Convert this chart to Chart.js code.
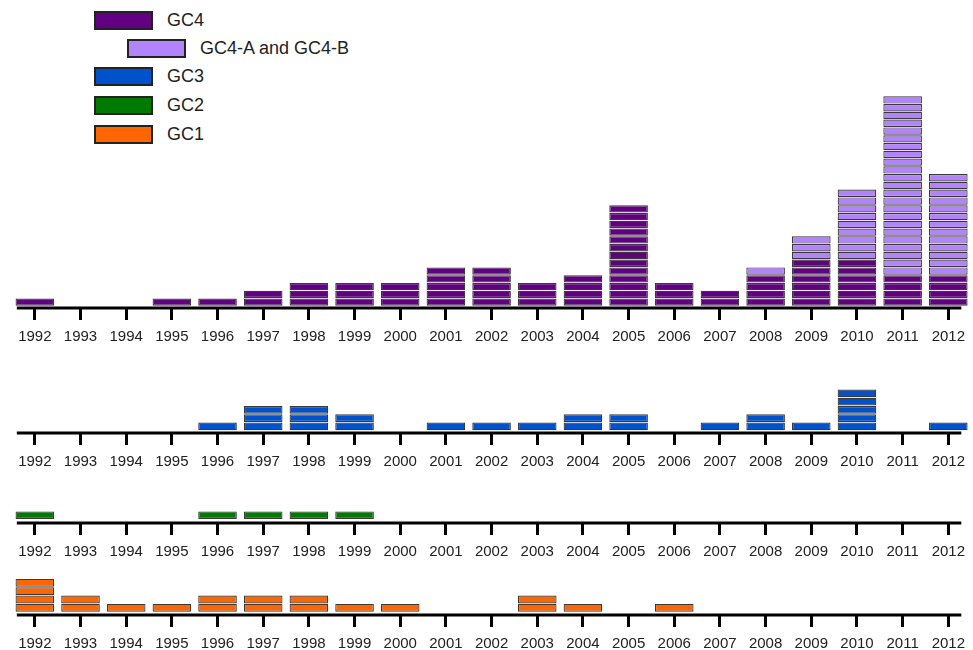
<!DOCTYPE html>
<html>
<head>
<meta charset="utf-8">
<script src="https://cdn.jsdelivr.net/npm/chart.js@4.4.1/dist/chart.umd.min.js"></script>
<style>
    body { margin: 0; width: 973px; height: 650px; overflow: hidden; background: #fff; position: relative;
           font-family: "Liberation Sans", Arial, sans-serif; }
    .panel { position: absolute; left: 0; }
    .legend-item { position: absolute; display: flex; align-items: center; font-size: 18px; color: #222; }
    .legend-item span.swatch { display: inline-block; width: 55px; height: 15px; border: 2px solid #222; margin-right: 14px; }
</style>
</head>
<body>
<div id="legend"></div>
<canvas id="gc4-chart" class="panel"></canvas>
<canvas id="gc3-chart" class="panel"></canvas>
<canvas id="gc2-chart" class="panel"></canvas>
<canvas id="gc1-chart" class="panel"></canvas>
<script>
// Data: number of blocks per year
const years = ['1992', '1993', '1994', '1995', '1996', '1997', '1998', '1999', '2000', '2001', '2002',
               '2003', '2004', '2005', '2006', '2007', '2008', '2009', '2010', '2011', '2012'];
const gc4   = [1, 0, 0, 1, 1, 2, 3, 3, 3, 5, 5, 3, 4, 13, 3, 2, 4, 6, 6, 4, 4];
const gc4ab = [0, 0, 0, 0, 0, 0, 0, 0, 0, 0, 0, 0, 0, 0, 0, 0, 1, 3, 9, 23, 13];
const gc3   = [0, 0, 0, 0, 1, 3, 3, 2, 0, 1, 1, 1, 2, 2, 0, 1, 2, 1, 5, 0, 1];
const gc2   = [1, 0, 0, 0, 1, 1, 1, 1, 0, 0, 0, 0, 0, 0, 0, 0, 0, 0, 0, 0, 0];
const gc1   = [4, 2, 1, 1, 2, 2, 2, 1, 1, 0, 0, 2, 1, 0, 1, 0, 0, 0, 0, 0, 0];

const COLORS = {
    gc4: '#620082',
    gc4ab: '#b383fb',
    gc3: '#0052cc',
    gc2: '#007a00',
    gc1: '#ff6600'
};

const FONT = '"Liberation Sans", Arial, sans-serif';

// Legend (GC4-A/B entry is indented under GC4)
const legendEntries = [
    { label: 'GC4', color: COLORS.gc4, left: 94, top: 10 },
    { label: 'GC4-A and GC4-B', color: COLORS.gc4ab, left: 127, top: 38 },
    { label: 'GC3', color: COLORS.gc3, left: 94, top: 66 },
    { label: 'GC2', color: COLORS.gc2, left: 94, top: 95 },
    { label: 'GC1', color: COLORS.gc1, left: 94, top: 124 }
];
const legendEl = document.getElementById('legend');
legendEntries.forEach(e => {
    const item = document.createElement('div');
    item.className = 'legend-item';
    item.style.left = e.left + 'px';
    item.style.top = e.top + 'px';
    item.innerHTML = `<span class="swatch" style="background:${e.color}"></span>${e.label}`;
    legendEl.appendChild(item);
});

// One dataset per block level; each block is a floating bar with a thin gap
function blockDatasets(layers) {
    const totals = years.map((_, i) => layers.reduce((s, l) => s + l.counts[i], 0));
    const maxTotal = Math.max(...totals);
    const sets = [];
    for (let k = 0; k < maxTotal; k++) {
        sets.push({
            data: totals.map(t => (k < t ? [k + 0.03, k + 0.97] : null)),
            backgroundColor: years.map((_, i) => {
                let acc = 0;
                for (const l of layers) {
                    acc += l.counts[i];
                    if (k < acc) return l.color;
                }
                return 'transparent';
            }),
            borderColor: '#3a3a3a',
            borderWidth: 1.2,
            borderSkipped: false,
            categoryPercentage: 1,
            barPercentage: 0.845
        });
    }
    return sets;
}

// Axis line that stops a little past the first and last tick
const axisLine = {
    id: 'axisLine',
    afterDraw(chart) {
        const x = chart.scales.x;
        const ctx = chart.ctx;
        const y = chart.chartArea.bottom;
        ctx.save();
        ctx.strokeStyle = '#000';
        ctx.lineWidth = 3;
        ctx.beginPath();
        ctx.moveTo(x.getPixelForValue(0) - 18, y);
        ctx.lineTo(x.getPixelForValue(years.length - 1) + 13, y);
        ctx.stroke();
        ctx.restore();
    }
};

function makePanel(id, top, height, layers, yMin, yMax) {
    const canvas = document.getElementById(id);
    canvas.width = 973;
    canvas.height = height;
    canvas.style.top = top + 'px';
    new Chart(canvas.getContext('2d'), {
        type: 'bar',
        data: { labels: years, datasets: blockDatasets(layers) },
        options: {
            responsive: false,
            animation: false,
            layout: { padding: { left: 12, right: 0, top: 0, bottom: 0 } },
            plugins: { legend: { display: false }, tooltip: { enabled: false } },
            scales: {
                x: {
                    stacked: true,
                    offset: true,
                    grid: { offset: false, drawOnChartArea: false, tickLength: 12, lineWidth: 3, color: '#000' },
                    border: { display: false },
                    ticks: { font: { size: 15, family: FONT }, color: '#222', padding: 8, maxRotation: 0, autoSkip: false },
                    afterFit(scale) { scale.height = 36; }
                },
                y: { display: false, min: yMin, max: yMax }
            }
        },
        plugins: [axisLine]
    });
}

makePanel('gc4-chart', 0, 344, [{ counts: gc4, color: COLORS.gc4 }, { counts: gc4ab, color: COLORS.gc4ab }], -0.25, 39.35);
makePanel('gc3-chart', 344, 125, [{ counts: gc3, color: COLORS.gc3 }], -0.3, 10.5);
makePanel('gc2-chart', 469, 90, [{ counts: gc2, color: COLORS.gc2 }], -0.45, 6.15);
makePanel('gc1-chart', 560, 91, [{ counts: gc1, color: COLORS.gc1 }], -0.36, 6.24);
</script>
</body>
</html>
